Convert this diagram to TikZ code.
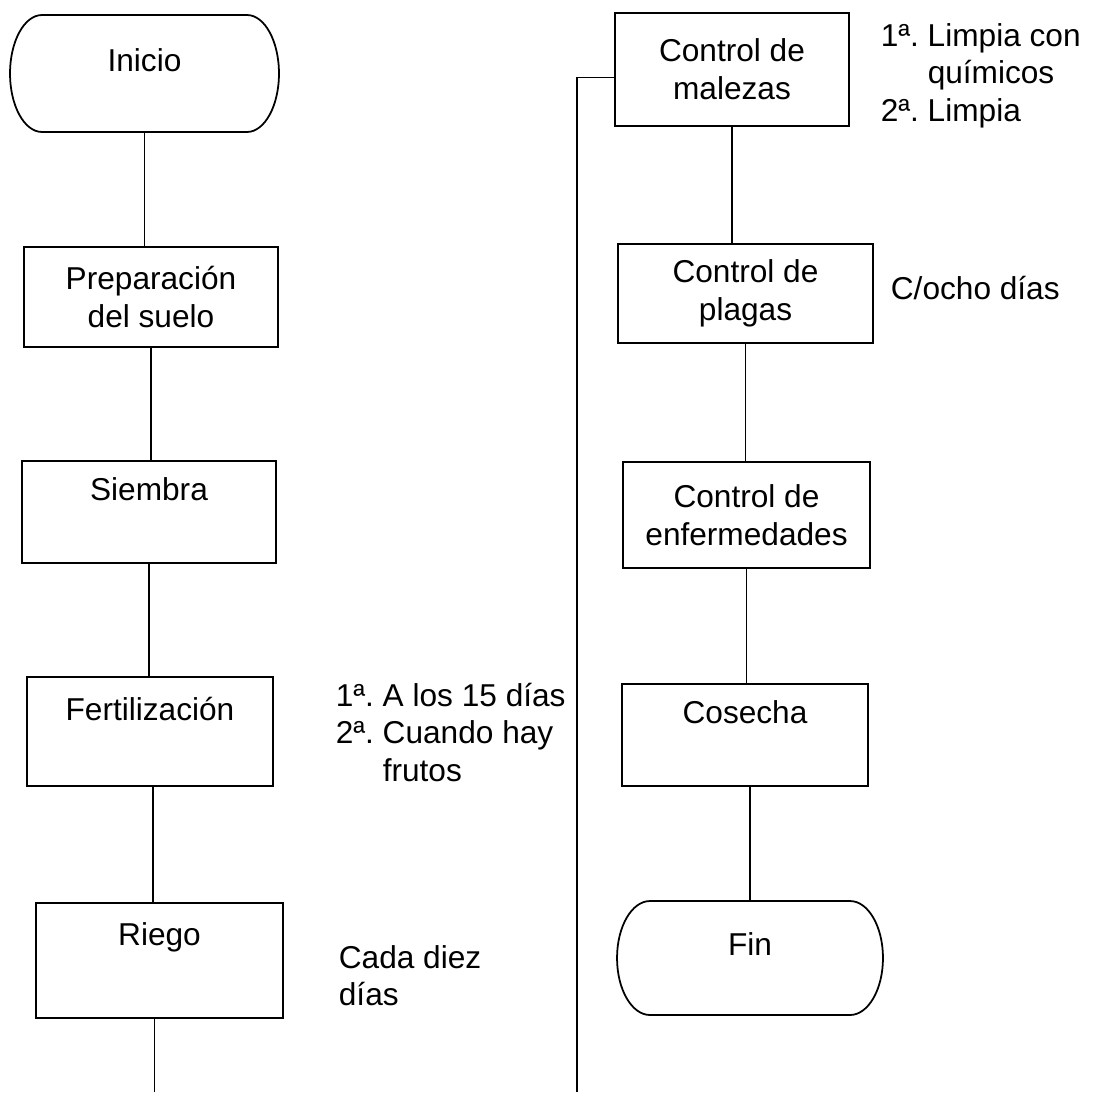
\documentclass[tikz,border=0pt]{standalone}
\usepackage{fontspec}
\setmainfont{Liberation Sans}

\begin{document}
\begin{tikzpicture}[x=0.02cm, y=0.02cm, line width=1pt]
        \useasboundingbox (0,0) rectangle (1111,-1092);
        \begin{scope}[every node/.style={draw, rectangle, align=center, font=\fontsize{18}{21.6}\selectfont}]
            \node[minimum width=5.08cm, minimum height=2cm] (prep) at (151,-297) {Preparación\\del suelo};
            \node[minimum width=5.08cm, minimum height=2.04cm] (siembra) at (149,-512) {Siembra\\[4pt] ~};
            \node[minimum width=4.92cm, minimum height=2.18cm] (fert) at (150,-731.5) {Fertilización\\[4pt] ~};
            \node[minimum width=4.94cm, minimum height=2.3cm] (riego) at (159.5,-960.5) {Riego\\[8pt] ~};

            \node[minimum width=4.68cm, minimum height=2.26cm] (malezas) at (732,-69.5) {Control de\\malezas};
            \node[minimum width=5.1cm, minimum height=1.98cm] (plagas) at (745.5,-293.5) {Control de\\plagas};
            \node[minimum width=4.94cm, minimum height=2.12cm] (enfermedades) at (746.5,-515) {Control de\\enfermedades};
            \node[minimum width=4.92cm, minimum height=2.04cm] (cosecha) at (745,-735) {Cosecha\\[4pt] ~};
        \end{scope}
        \begin{scope}[every node/.style={align=center, outer sep=0pt, font=\fontsize{18}{21.6}\selectfont}]
            \node[minimum width=5.38cm, minimum height=2.34cm] (inicio) at (144.5,-73.5) {Inicio\\[-6pt]~};
            \node[minimum width=5.32cm, minimum height=2.28cm] (fin) at (750,-958) {Fin\\[-6pt]~};
        \end{scope}
        % terminales
        \draw ([xshift=0.64cm]inicio.north west) -- ([xshift=-0.64cm]inicio.north east)
            arc[start angle=90, end angle=-90, x radius=0.64cm, y radius=1.17cm]
            -- ([xshift=0.64cm]inicio.south west)
            arc[start angle=270, end angle=90, x radius=0.64cm, y radius=1.17cm] -- cycle;
        \draw ([xshift=0.66cm]fin.north west) -- ([xshift=-0.66cm]fin.north east)
            arc[start angle=90, end angle=-90, x radius=0.66cm, y radius=1.14cm]
            -- ([xshift=0.66cm]fin.south west)
            arc[start angle=270, end angle=90, x radius=0.66cm, y radius=1.14cm] -- cycle;
        % notas
        \begin{scope}[every node/.style={inner sep=0pt, anchor=base west, font=\fontsize{18}{21.6}\selectfont}]
            \node (notamalezas) at (880,-46) {\begin{tabular}[t]{@{}l@{\ }l@{}}1ª. & Limpia con\\ & químicos\\ 2ª. & Limpia\end{tabular}};
            \node (notaplagas) at (890,-299) {C/ocho días};
            \node (notafert) at (335,-706) {\begin{tabular}[t]{@{}l@{\ }l@{}}1ª. & A los 15 días\\ 2ª. & Cuando hay\\ & frutos\end{tabular}};
            \node (notariego) at (338,-968) {\begin{tabular}[t]{@{}l@{}}Cada diez\\días\end{tabular}};
        \end{scope}
        \coordinate (abajo) at (0,-1092);
        \coordinate (retorno) at (577,-1092);
        \begin{scope}[every edge/.style={draw, line width=1pt}]
            \path [-] (inicio.south) edge (inicio.south |- prep.north);
            \path [-] (prep.south) edge (prep.south |- siembra.north);
            \path [-] (siembra.south) edge (siembra.south |- fert.north);
            \path [-] ([xshift=0.06cm]fert.south) edge ([xshift=0.06cm]fert.south |- riego.north);
            \path [-] ([xshift=-0.1cm]riego.south) edge ([xshift=-0.1cm]riego.south |- abajo);

            \path [-] (malezas.south) edge (malezas.south |- plagas.north);
            \path [-] (plagas.south) edge (plagas.south |- enfermedades.north);
            \path [-] (enfermedades.south) edge (enfermedades.south |- cosecha.north);
            \path [-] ([xshift=0.1cm]cosecha.south) edge ([xshift=0.1cm]cosecha.south |- fin.north);
        \end{scope}
        \draw (retorno) |- ([yshift=-0.16cm]malezas.west);
\end{tikzpicture}
\end{document}
